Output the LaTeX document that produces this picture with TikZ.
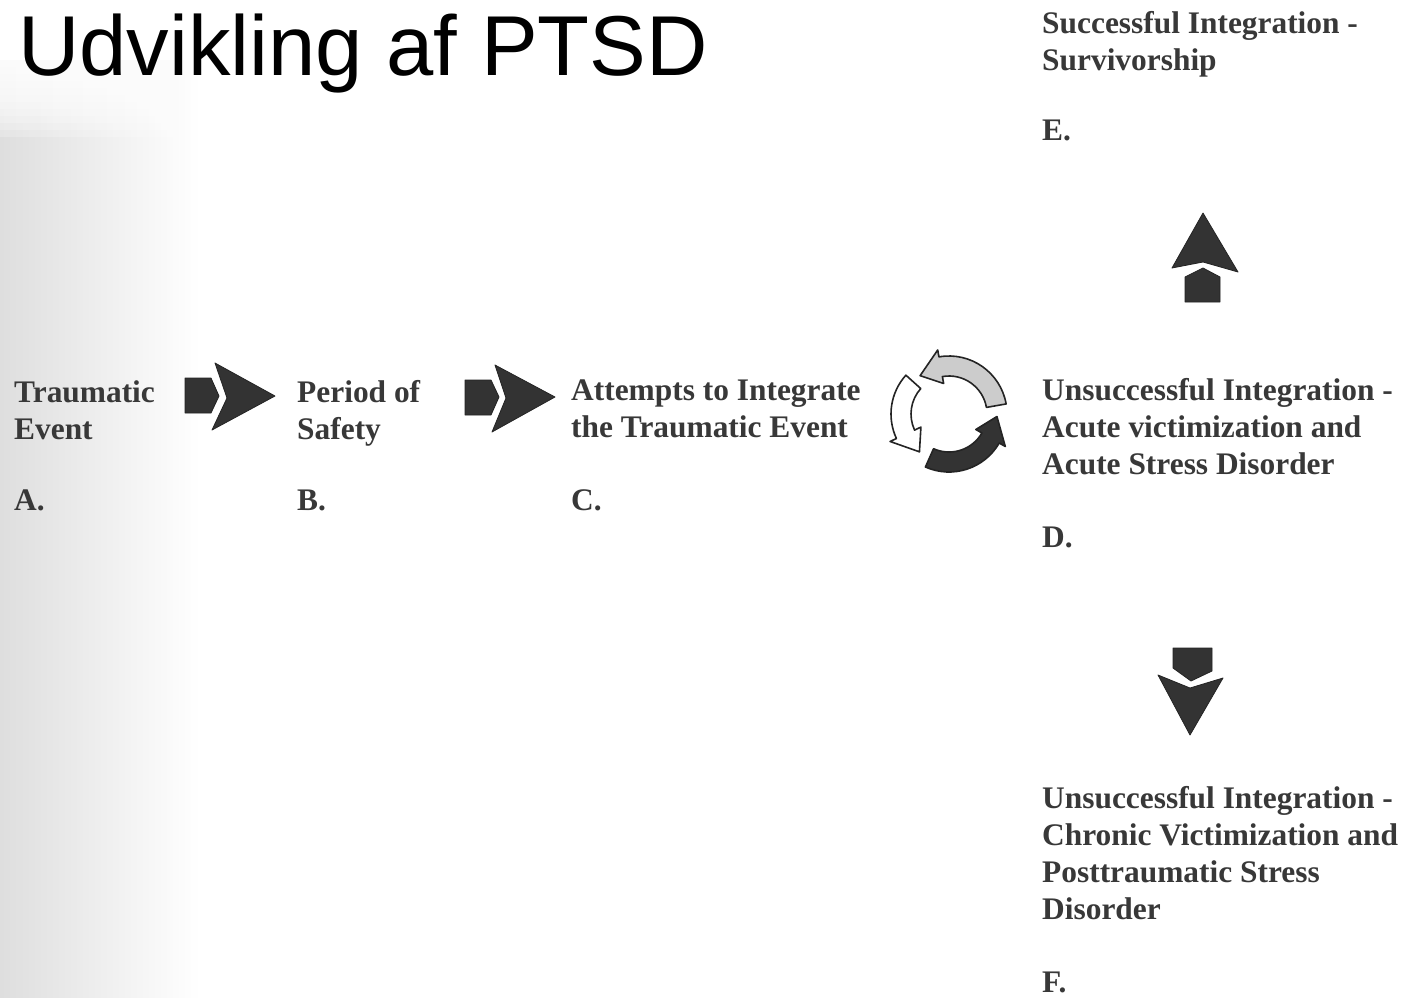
\documentclass[tikz,border=0pt]{standalone}
\usepackage{fontspec}
\setmainfont{Liberation Serif}
\newfontfamily\titlefont{Liberation Sans}
\definecolor{txt}{HTML}{383838}
\definecolor{arr}{HTML}{333333}
\begin{document}
\begin{tikzpicture}[x=1pt,y=1pt,
  lbl/.style={anchor=base west, inner sep=0pt, align=left, text=txt, font=\bfseries\fontsize{31.4}{37}\selectfont},
  blk/.style={fill=arr, draw=arr!70!black, line width=0.8pt, line join=round},
  cyc/.style={draw=arr!70!black, line width=1.6pt, line join=round}]
\useasboundingbox (0,0) rectangle (1409,-997);
\fill[white] (0,0) rectangle (1409,-997);
\shade[left color=black!13, right color=white] (0,-60) rectangle (200,-997);
\foreach \i in {0,...,11} \fill[white, opacity=0.22] (0,-60) rectangle (200,{-60-\i*7});
\node[anchor=base west, inner sep=0pt, font=\titlefont\fontsize{85}{90}\selectfont] (title) at (18,-75) {Udvikling af PTSD};

\node[lbl] (a) at (14,-439) {Traumatic\\Event};
\node[lbl] (alab) at (14,-510) {A.};
\node[lbl] (b) at (297,-439) {Period of\\Safety};
\node[lbl] (blab) at (297,-510) {B.};
\node[lbl] (c) at (571,-437) {Attempts to Integrate\\the Traumatic Event};
\node[lbl] (clab) at (571,-510) {C.};
\node[lbl] (d) at (1042,-474) {Unsuccessful Integration -\\Acute victimization and\\Acute Stress Disorder};
\node[lbl] (dlab) at (1042,-547) {D.};
\node[lbl] (e) at (1042,-70) {Successful Integration -\\Survivorship};
\node[lbl] (elab) at (1042,-140) {E.};
\node[lbl] (f) at (1042,-919) {Unsuccessful Integration -\\Chronic Victimization and\\Posttraumatic Stress\\Disorder};
\node[lbl] (flab) at (1042,-992) {F.};

% right arrow A -> B
\filldraw[blk] (185,-378) -- (211,-378) -- (219,-396) -- (211,-413) -- (185,-413) -- cycle;
\filldraw[blk] (215,-363) -- (275,-396) -- (212,-430) -- (227,-398) -- cycle;
% right arrow B -> C
\filldraw[blk] (465,-380) -- (491,-380) -- (499,-397) -- (491,-415) -- (465,-415) -- cycle;
\filldraw[blk] (495,-365) -- (555,-397) -- (492,-432) -- (506,-398) -- cycle;
% up arrow D -> E
\filldraw[blk] (1203,-213) -- (1238,-272) -- (1203,-262) -- (1172,-268) -- cycle;
\filldraw[blk] (1185,-302) -- (1185,-277) -- (1203,-268) -- (1220,-277) -- (1220,-302) -- cycle;
% down arrow D -> F
\filldraw[blk] (1173,-648) -- (1212,-648) -- (1212,-671) -- (1191,-681) -- (1173,-668) -- cycle;
\filldraw[blk] (1158,-675) -- (1190,-688) -- (1223,-678) -- (1190,-735) -- cycle;

% cycle icon
\begin{scope}[shift={(949,-414)}]
\filldraw[cyc, fill=gray!40] (10:38) -- (10:58) arc[start angle=10, end angle=100, radius=58] -- (100:65) -- (127:48) -- (100:31) -- (100:38) arc[start angle=100, end angle=10, radius=38] -- cycle;
\filldraw[cyc, fill=white] (138:38) -- (138:58) arc[start angle=138, end angle=205, radius=58] -- (205:65) -- (232:48) -- (205:31) -- (205:38) arc[start angle=205, end angle=138, radius=38] -- cycle;
\filldraw[cyc, fill=arr] (246:38) -- (246:58) arc[start angle=246, end angle=330, radius=58] -- (330:65) -- (357:48) -- (330:31) -- (330:38) arc[start angle=330, end angle=246, radius=38] -- cycle;
\end{scope}
\end{tikzpicture}
\end{document}
